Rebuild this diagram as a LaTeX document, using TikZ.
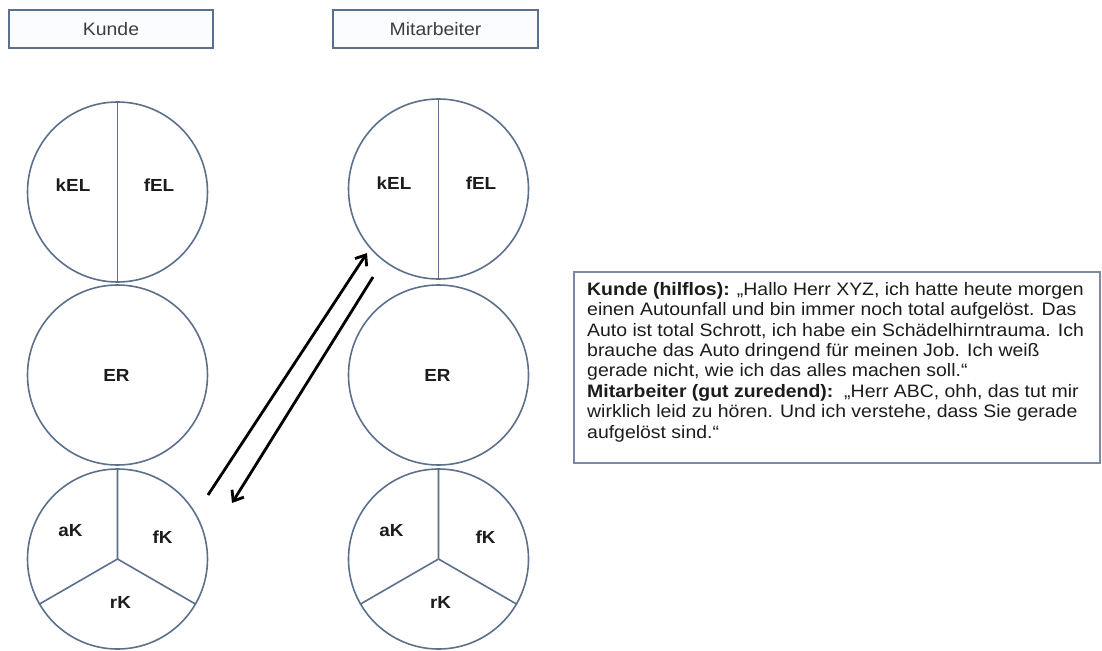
\documentclass[tikz,border=0pt]{standalone}
\usepackage{fontspec}
\setmainfont{Liberation Sans}[FakeStretch=1.08]
\usetikzlibrary{arrows.meta}
\definecolor{ringline}{RGB}{92,112,140}
\definecolor{boxline}{RGB}{125,138,165}
\definecolor{headfill}{RGB}{251,252,255}
\definecolor{ink}{RGB}{28,28,28}
\begin{document}
\begin{tikzpicture}[x=1pt,y=1pt,
  ring/.style={circle, draw=ringline, line width=1.6pt, fill=white,
    minimum size=180pt, inner sep=0pt},
  divider/.style={draw=ringline, line width=1.6pt},
  lbl/.style={font=\fontsize{17.5}{20}\selectfont\bfseries, text=ink, inner sep=0pt},
  header/.style={draw=ringline, line width=1.6pt, fill=headfill,
    minimum height=38pt, inner sep=0pt,
    font=\fontsize{18}{20}\selectfont, text=ink!85},
  flow/.style={draw=black, line width=2.8pt,
    -{Straight Barb[length=9pt,width=14pt]}}]
\useasboundingbox (0,0) rectangle (1102,-650);

% column headers
\node[header, minimum width=204pt] (hKunde) at (111,-29) {Kunde};
\node[header, minimum width=205pt] (hMit) at (435.5,-29) {Mitarbeiter};

% customer column
\node[ring] (kTop) at (117.5,-192) {};
\node[ring] (kMid) at (117.5,-375) {};
\node[ring] (kBot) at (117.5,-559) {};
% employee column
\node[ring] (mTop) at (438.5,-189) {};
\node[ring] (mMid) at (438.5,-375) {};
\node[ring] (mBot) at (438.5,-559) {};

% dividers of the upper circles
\draw[divider] (kTop.north) -- (kTop.south);
\draw[divider] (mTop.north) -- (mTop.south);
% three sectors of the lower circles
\draw[divider] (kBot.90) -- (kBot.center) -- (kBot.210);
\draw[divider] (kBot.center) -- (kBot.330);
\draw[divider] (mBot.90) -- (mBot.center) -- (mBot.210);
\draw[divider] (mBot.center) -- (mBot.330);

% labels
\node[lbl] (kKEL) at ([shift={(-44.5,7)}]kTop.center) {kEL};
\node[lbl] (kFEL) at ([shift={(41.5,7)}]kTop.center) {fEL};
\node[lbl] (kER) at ([shift={(-1,0)}]kMid.center) {ER};
\node[lbl] (kAK) at ([shift={(-47,28)}]kBot.center) {aK};
\node[lbl] (kFK) at ([shift={(45,22)}]kBot.center) {fK};
\node[lbl] (kRK) at ([shift={(3,-43)}]kBot.center) {rK};

\node[lbl] (mKEL) at ([shift={(-44.5,6)}]mTop.center) {kEL};
\node[lbl] (mFEL) at ([shift={(42.5,6)}]mTop.center) {fEL};
\node[lbl] (mER) at ([shift={(-1,0)}]mMid.center) {ER};
\node[lbl] (mAK) at ([shift={(-47,28)}]mBot.center) {aK};
\node[lbl] (mFK) at ([shift={(47,22)}]mBot.center) {fK};
\node[lbl] (mRK) at ([shift={(2,-43)}]mBot.center) {rK};

% exchange arrows
\coordinate (upFrom) at (208,-495);
\coordinate (upTo) at (367,-253);
\coordinate (downFrom) at (373,-277);
\coordinate (downTo) at (232,-503);
\draw[flow] (upFrom) -- (upTo);
\draw[flow] (downFrom) -- (downTo);

% dialogue box
\node[draw=boxline, line width=1.8pt, fill=white, minimum width=526pt,
  minimum height=191pt, inner sep=0pt] (dialog) at (837,-367.5) {};
\node[anchor=north west, align=left, inner sep=0pt, text=ink,
  font=\fontsize{18}{20.4}\selectfont] (dialogText) at (587,-282)
{\textbf{Kunde (hilflos):} „Hallo Herr XYZ, ich hatte heute morgen\\
einen Autounfall und bin immer noch total aufgelöst. Das\\
Auto ist total Schrott, ich habe ein Schädelhirntrauma. Ich\\
brauche das Auto dringend für meinen Job. Ich weiß\\
gerade nicht, wie ich das alles machen soll.“\\
\textbf{Mitarbeiter (gut zuredend):}\ \ „Herr ABC, ohh, das tut mir\\
wirklich leid zu hören. Und ich verstehe, dass Sie gerade\\
aufgelöst sind.“};
\end{tikzpicture}
\end{document}
